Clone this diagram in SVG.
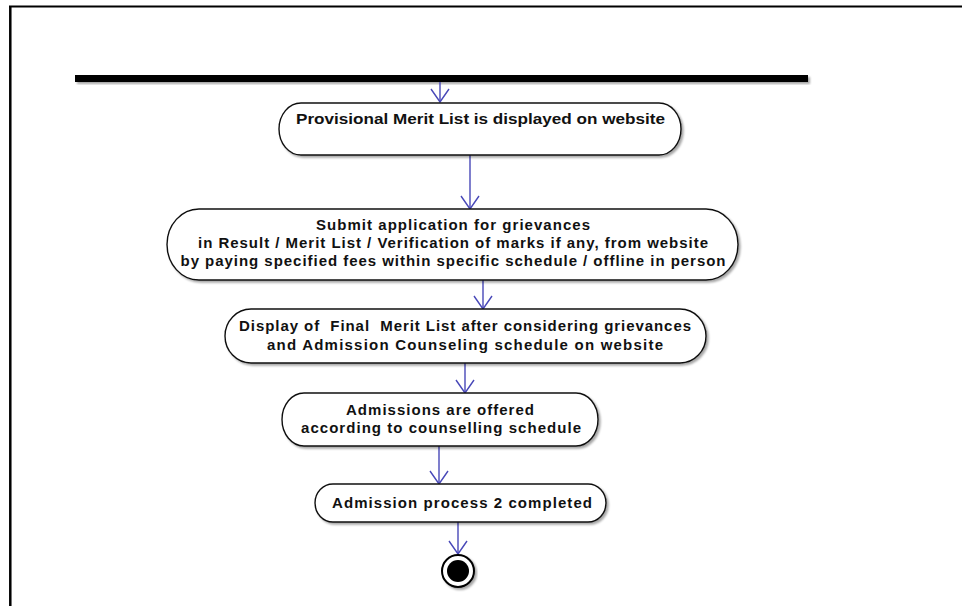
<svg xmlns="http://www.w3.org/2000/svg" width="962" height="606" viewBox="0 0 962 606">
<defs>
<style>
.node{fill:#fff;stroke:#111;stroke-width:1.4;filter:url(#sh)}
.t{font-family:"Liberation Sans",Arial,sans-serif;font-weight:bold;font-size:15px;fill:#111;text-anchor:middle}
.c{stroke:#4848b8;stroke-width:1.4;fill:none;marker-end:url(#arr)}
</style>
<filter id="sh" x="-10%" y="-20%" width="120%" height="150%">
<feDropShadow dx="2" dy="2" stdDeviation="1.2" flood-color="#000" flood-opacity="0.35"/>
</filter>
<marker id="arr" markerUnits="userSpaceOnUse" viewBox="-1 -1 16 20" markerWidth="16" markerHeight="20" refX="13" refY="9" orient="auto">
<path d="M0,0 L13,9 L0,18" fill="none" stroke="#4848b8" stroke-width="1.4"/>
</marker>
</defs>
<rect width="962" height="606" fill="#fff"/>
<g id="frame">
<line x1="9" y1="6.5" x2="962" y2="6.5" stroke="#000" stroke-width="2.2"/>
<line x1="10.3" y1="6" x2="10.3" y2="606" stroke="#000" stroke-width="2.5"/>
</g>
<g id="bar">
<rect x="75" y="75" width="733" height="7" fill="#000" filter="url(#sh)"/>
</g>
<g id="connectors">
<line class="c" x1="440" y1="82" x2="440" y2="102"/>
<line class="c" x1="470" y1="155" x2="470" y2="209"/>
<line class="c" x1="483" y1="280" x2="483" y2="309"/>
<line class="c" x1="465" y1="363" x2="465" y2="393"/>
<line class="c" x1="439" y1="446" x2="439" y2="484"/>
<line class="c" x1="458" y1="522" x2="458" y2="554"/>
</g>
<g id="n1">
<rect class="node" x="279" y="103" width="402" height="52" rx="22" ry="26"/>
<text class="t" x="480.5" y="124" style="font-size:15.5px" textLength="369" lengthAdjust="spacingAndGlyphs">Provisional Merit List is displayed on website</text>
</g>
<g id="n2">
<rect class="node" x="167" y="209" width="571" height="71" rx="32" ry="35.5"/>
<text class="t" x="453" y="230" textLength="274">Submit application for grievances</text>
<text class="t" x="453" y="248" textLength="510">in Result / Merit List / Verification of marks if any, from website</text>
<text class="t" x="453" y="266" textLength="545">by paying specified fees within specific schedule / offline in person</text>
</g>
<g id="n3">
<rect class="node" x="225" y="309" width="481" height="54" rx="26" ry="27"/>
<text class="t" x="465" y="331" textLength="452" xml:space="preserve">Display of  Final  Merit List after considering grievances</text>
<text class="t" x="465" y="350" textLength="396">and Admission Counseling schedule on website</text>
</g>
<g id="n4">
<rect class="node" x="282" y="393" width="316" height="53" rx="22" ry="26.5"/>
<text class="t" x="440" y="415" textLength="188">Admissions are offered</text>
<text class="t" x="441" y="433" textLength="280">according to counselling schedule</text>
</g>
<g id="n5">
<rect class="node" x="315" y="484" width="291" height="38" rx="18" ry="19"/>
<text class="t" x="462" y="508" textLength="260">Admission process 2 completed</text>
</g>
<g id="final">
<circle cx="458" cy="571" r="16" fill="#fff" stroke="#000" stroke-width="2" filter="url(#sh)"/>
<circle cx="458" cy="571" r="11" fill="#000"/>
</g>
</svg>
